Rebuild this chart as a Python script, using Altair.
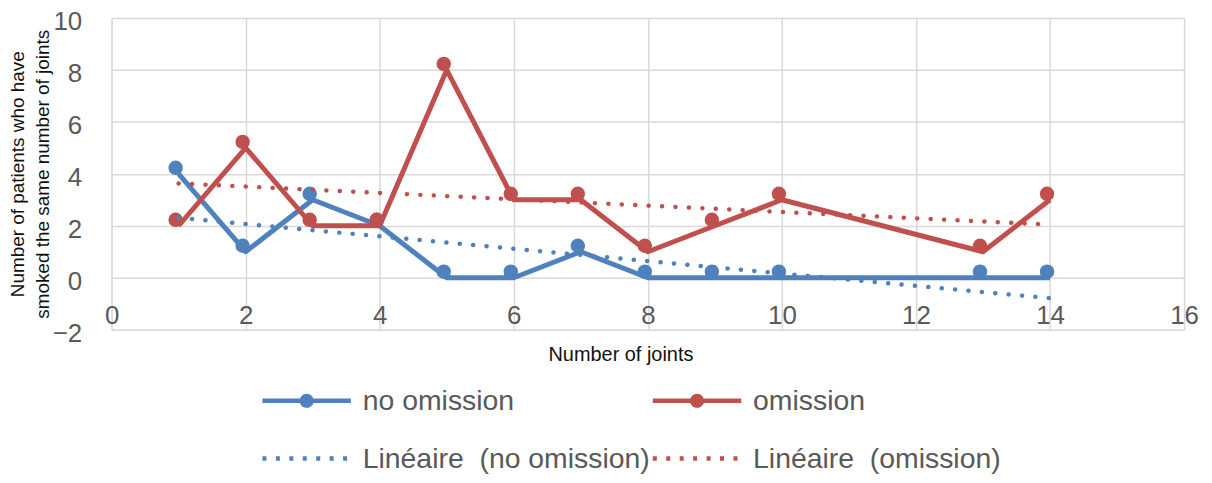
import altair as alt
import pandas as pd

# ---- data ----
joints = [1, 2, 3, 4, 5, 6, 7, 8, 9, 10, 13, 14]
no_omission = [4, 1, 3, 2, 0, 0, 1, 0, 0, 0, 0, 0]
omission = [2, 5, 2, 2, 8, 3, 3, 1, 2, 3, 1, 3]

series_names = ["no omission", "omission"]
NB = "\u00a0"
legend_names = ["no omission", "omission",
                f"Linéaire{NB} (no omission)", f"Linéaire{NB} (omission)"]
colors = ["#4f81bd", "#c0504d", "#4f81bd", "#c0504d"]
x_ticks = [0, 2, 4, 6, 8, 10, 12, 14, 16]
y_ticks = [-2, 0, 2, 4, 6, 8, 10]
y_title = ["Number of patients who have", "smoked the same number of joints"]
x_title = "Number of joints"

rows = []
for x, a, b in zip(joints, no_omission, omission):
    rows.append({"joints": x, "count": a, "series": series_names[0]})
    rows.append({"joints": x, "count": b, "series": series_names[1]})
df = pd.DataFrame(rows)

FONT = "Liberation Sans, Arial, sans-serif"
GRID = "#d9d9d9"
LABEL = "#595959"

xs = alt.Scale(domain=[0, 16], nice=False, zero=False)
ys = alt.Scale(domain=[-2, 10], nice=False, zero=False)
# colour scale for the drawn marks (order differs from the legend scales so that
# the hidden colour legend is not merged with the visible one)
color_scale = alt.Scale(domain=legend_names[::-1], range=colors[::-1])

x_axis = alt.Axis(values=x_ticks, labelFontSize=26, labelColor=LABEL, labelFont=FONT,
                  ticks=False, domain=False, labelPadding=-27, labelFlush=False,
                  labelOverlap=False, grid=True, gridColor=GRID, gridWidth=1.5,
                  titleFontSize=20, titleColor="#111111", titleFontWeight="normal",
                  titleFont=FONT, titlePadding=15, titleX=511)
y_axis = alt.Axis(values=y_ticks, labelFontSize=26, labelColor=LABEL, labelFont=FONT,
                  ticks=False, domain=False, labelPadding=30, labelOffset=4, grid=True,
                  gridColor=GRID, gridWidth=1.5, titleFontSize=19, titleColor="#111111",
                  titleFontWeight="normal", titleFont=FONT, titleLineHeight=25,
                  titlePadding=0)

X = alt.X("joints:Q", scale=xs, axis=x_axis, title=x_title)
Y = alt.Y("count:Q", scale=ys, axis=y_axis, title=y_title)

base = alt.Chart(df)

lines = base.mark_line(strokeWidth=5, strokeJoin="round").encode(
    x=X, y=Y,
    color=alt.Color("series:N", scale=color_scale, legend=None),
)

points = base.mark_circle(size=210, opacity=1, xOffset=-3, yOffset=-6).encode(
    x=X, y=Y,
    color=alt.Color("series:N", scale=color_scale, legend=None),
)

trend = base.transform_regression(
    "joints", "count", groupby=["series"]
).transform_calculate(
    label=f"'Linéaire{NB} (' + datum.series + ')'"
).mark_line(strokeWidth=4.5, strokeDash=[0.1, 13.4], strokeCap="round").encode(
    x=X, y=Y,
    color=alt.Color("label:N", scale=color_scale, legend=None),
)

path_solid = ("M-1.48,0H1.48M-0.16,0A0.16,0.16,0,1,0,0.16,0"
              "A0.16,0.16,0,1,0,-0.16,0Z")
path_dot = "M-1.48,0H1.48"

legend = alt.Legend(orient="none", legendX=149, legendY=352, columns=2,
                    direction="horizontal", title=None, symbolSize=3600,
                    symbolOffset=14.4, labelOffset=23.8, labelFontSize=28.5,
                    labelColor=LABEL, labelFont=FONT, labelLimit=500,
                    columnPadding=-14, rowPadding=11, symbolStrokeWidth=4.5)

legend_layer = base.mark_point(
    filled=True, opacity=1, strokeWidth=4.5, size=0
).encode(
    x=X, y=Y,
    fill=alt.Fill("series:N", scale=alt.Scale(domain=legend_names, range=colors),
                  legend=legend),
    stroke=alt.Stroke("series:N", scale=alt.Scale(domain=legend_names, range=colors),
                      legend=legend),
    shape=alt.Shape("series:N",
                    scale=alt.Scale(domain=legend_names,
                                    range=[path_solid, path_solid, path_dot, path_dot]),
                    legend=legend),
    strokeDash=alt.StrokeDash("series:N",
                              scale=alt.Scale(domain=legend_names,
                                              range=[[1, 0], [1, 0], [4, 9.5], [4, 9.5]]),
                              legend=legend),
)

chart = alt.layer(lines, points, trend, legend_layer).properties(
    width=1077, height=313,
    autosize=alt.AutoSizeParams(type="none"),
    padding={"left": 104, "top": 9, "right": 20, "bottom": 153},
).configure_view(stroke=None).configure(font=FONT)

chart.save("out.html", embed_options={"renderer": "svg", "actions": False})
